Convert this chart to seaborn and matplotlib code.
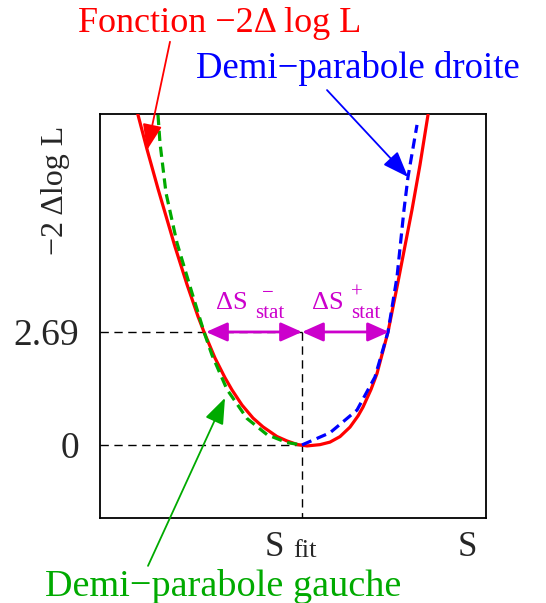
import matplotlib
matplotlib.use("Agg")
import matplotlib.pyplot as plt
import seaborn as sns
import pandas as pd

# ---- data (S_fit at x = 0) ----
red_x = [-1.65, -1.55, -1.44, -1.27, -1.15, -1.04, -0.98, -0.87, -0.77, -0.70, -0.60, -0.49,
         -0.39, -0.25, -0.15, -0.05, 0.05, 0.18, 0.28, 0.38, 0.48, 0.56, 0.61, 0.69, 0.75,
         0.86, 0.96, 1.10, 1.18, 1.26]
red_y = [7.95, 7.04, 6.10, 4.72, 3.82, 3.06, 2.69, 2.07, 1.60, 1.31, 0.95, 0.64,
         0.43, 0.20, 0.095, 0.012, -0.024, 0.007, 0.067, 0.198, 0.424, 0.69, 0.90, 1.32, 1.70,
         2.69, 3.88, 5.60, 6.67, 7.86]

green_x = [-1.44, -1.42, -1.36, -1.25, -1.10, -0.98, -0.90, -0.75, -0.55, -0.35, -0.15, 0.0]
green_y = [7.86, 7.19, 6.00, 4.81, 3.62, 2.69, 2.14, 1.32, 0.63, 0.245, 0.055, 0.0]

blue_x = [0.0, 0.28, 0.55, 0.73, 0.86, 0.95, 1.02, 1.06, 1.15]
blue_y = [0.0, 0.29, 0.83, 1.62, 2.69, 4.00, 5.60, 6.38, 7.62]

s_fit = 0.0
level = 2.69
delta_minus = 0.96
delta_plus = 0.87
ytick_vals = [0, 2.69]
ytick_labels = ["0", "2.69"]

xlim = (-2.02, 1.84)
ylim = (-1.74, 7.88)

RED = "#ff0000"
GREEN = "#00aa00"
BLUE = "#0000ff"
MAG = "#cc00cc"

sns.set_theme(style="white")
plt.rcParams["font.family"] = ["Liberation Serif", "DejaVu Serif"]

fig = plt.figure(figsize=(5.46, 6.03), dpi=100)
ax = fig.add_axes([100/546, 1-518/603, 386/546, 404/603])

df_red = pd.DataFrame({"x": red_x, "y": red_y})
df_green = pd.DataFrame({"x": green_x, "y": green_y})
df_blue = pd.DataFrame({"x": blue_x, "y": blue_y})

# reference dashed lines
ax.plot([xlim[0], s_fit], [level, level], color="black", lw=1.0, dashes=(6, 4), zorder=1)
ax.plot([xlim[0], s_fit], [0, 0], color="black", lw=1.0, dashes=(6, 4), zorder=1)
ax.plot([s_fit, s_fit], [level, ylim[0]], color="black", lw=1.0, dashes=(6, 4), zorder=1)

sns.lineplot(data=df_red, x="x", y="y", sort=False, estimator=None, color=RED, lw=2.3, ax=ax, zorder=3)
ax.lines[-1].set_solid_joinstyle("round")
sns.lineplot(data=df_green, x="x", y="y", sort=False, estimator=None, color=GREEN, lw=2.3, ax=ax, zorder=4)
ax.lines[-1].set_dashes([3.2, 1.8])
sns.lineplot(data=df_blue, x="x", y="y", sort=False, estimator=None, color=BLUE, lw=2.3, ax=ax, zorder=4)
ax.lines[-1].set_dashes([3.2, 1.8])

# magenta double arrows
arr = dict(arrowstyle="<|-|>,head_length=0.65,head_width=0.29", color=MAG, lw=2.0,
           mutation_scale=20, shrinkA=0, shrinkB=0)
ax.annotate("", xy=(s_fit - delta_minus, level), xytext=(s_fit, level), arrowprops=arr, zorder=5)
ax.annotate("", xy=(s_fit + delta_plus, level), xytext=(s_fit, level), arrowprops=arr, zorder=5)

# Delta S labels
ax.text(-0.70, 3.38, "ΔS", color=MAG, fontsize=19, ha="center", va="center")
ax.text(-0.32, 3.13, "stat", color=MAG, fontsize=15, ha="center", va="center")
ax.text(-0.34, 3.60, "−", color=MAG, fontsize=15, ha="center", va="center")
ax.text(0.255, 3.38, "ΔS", color=MAG, fontsize=19, ha="center", va="center")
ax.text(0.64, 3.13, "stat", color=MAG, fontsize=15, ha="center", va="center")
ax.text(0.55, 3.62, "+", color=MAG, fontsize=15, ha="center", va="center")

# annotation arrows
ann = "-|>,head_length=0.8,head_width=0.3"
ax.annotate("", xy=(-1.55, 7.02), xytext=(-1.32, 9.60),
            arrowprops=dict(arrowstyle=ann, color=RED, lw=1.3, mutation_scale=20, shrinkA=0, shrinkB=0),
            annotation_clip=False, zorder=6)
ax.annotate("", xy=(1.06, 6.38), xytext=(0.25, 8.45),
            arrowprops=dict(arrowstyle=ann, color=BLUE, lw=1.3, mutation_scale=20, shrinkA=0, shrinkB=0),
            annotation_clip=False, zorder=6)
ax.annotate("", xy=(-0.77, 1.12), xytext=(-1.54, -2.88),
            arrowprops=dict(arrowstyle=ann, color=GREEN, lw=1.3, mutation_scale=20, shrinkA=0, shrinkB=0),
            annotation_clip=False, zorder=6)

fig.text(220/546, 1-23/603, "Fonction −2Δ log L", color=RED, fontsize=26, ha="center", va="center")
fig.text(358/546, 1-68/603, "Demi−parabole droite", color=BLUE, fontsize=26.5, ha="center", va="center")
fig.text(223/546, 1-596/603, "Demi−parabole gauche", color=GREEN, fontsize=27.5, ha="center", va="baseline")

# x labels
fig.text(274/546, 1-548/603, "S", fontsize=25, ha="center", va="center")
fig.text(305/546, 1-551/603, "fit", fontsize=19, ha="center", va="center")
fig.text(467/546, 1-548/603, "S", fontsize=25, ha="center", va="center")

ax.set_xlim(*xlim)
ax.set_ylim(*ylim)
ax.set_xticks([])
ax.set_yticks(ytick_vals)
ax.set_yticklabels(ytick_labels, fontsize=27)
ax.tick_params(axis="y", length=0, pad=15)
ax.set_xlabel("")
ax.set_ylabel("−2 Δlog L", fontsize=23)
ax.yaxis.set_label_coords(-(100-70)/386, (518-190)/404)
for sp in ax.spines.values():
    sp.set_color("black")
    sp.set_linewidth(1.3)

fig.savefig("out.png", dpi=100)
